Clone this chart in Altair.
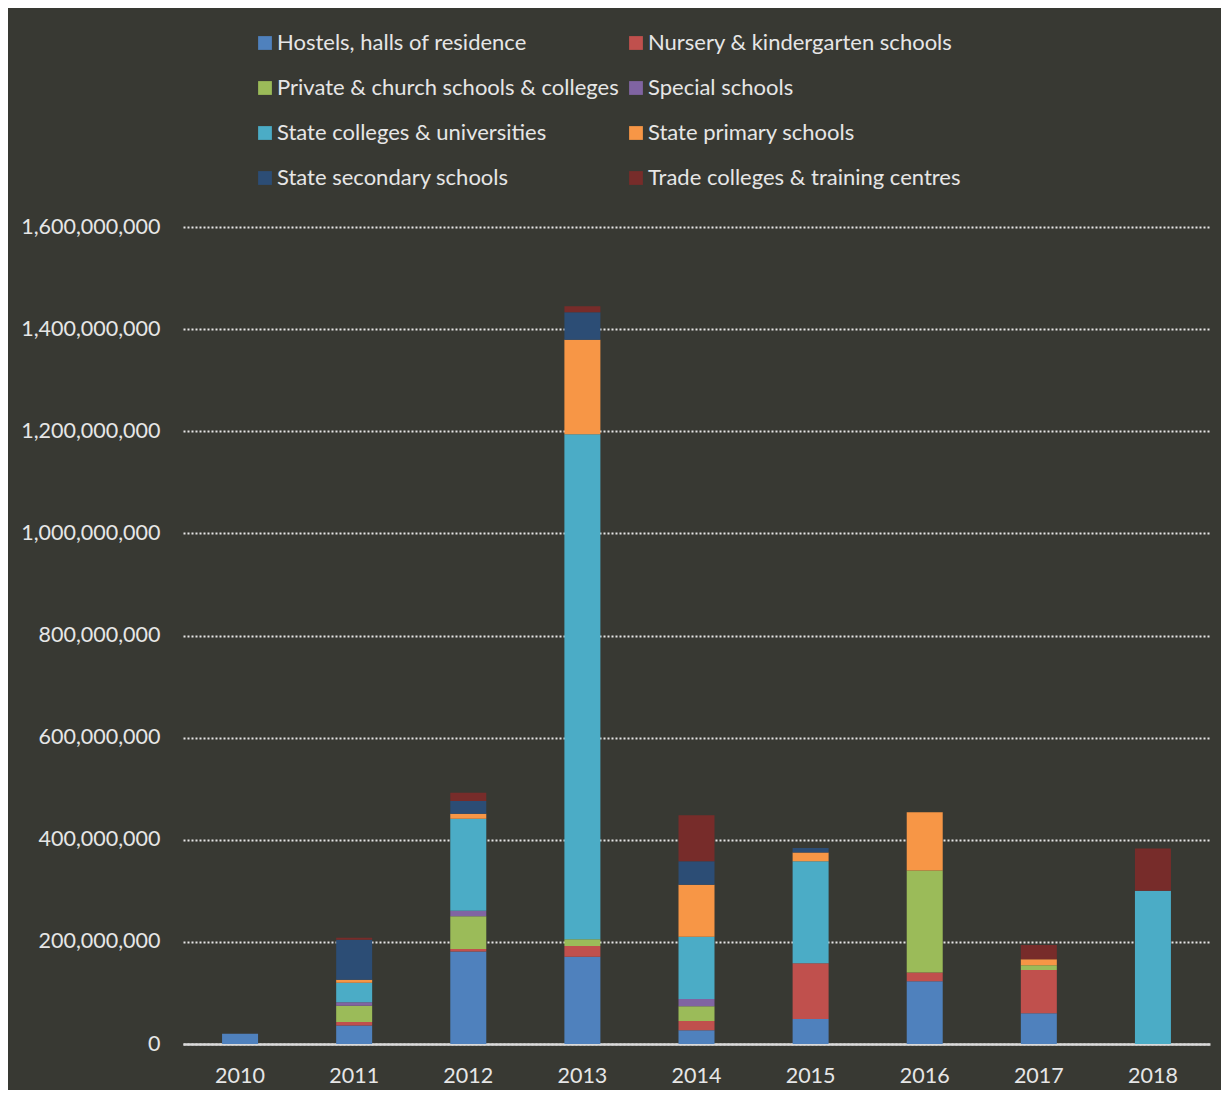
import altair as alt
import pandas as pd

years = ["2010", "2011", "2012", "2013", "2014", "2015", "2016", "2017", "2018"]
categories = [
    "Hostels, halls of residence",
    "Nursery & kindergarten schools",
    "Private & church schools & colleges",
    "Special schools",
    "State colleges & universities",
    "State primary schools",
    "State secondary schools",
    "Trade colleges & training centres",
]
colors = ["#4F81BD", "#C0504D", "#9BBB59", "#8064A2", "#4BACC6", "#F79646", "#2C4D75", "#772C2A"]

hostels   = [20e6, 36e6, 181e6, 171e6, 27e6, 49e6, 123e6, 60e6, 0]
nursery   = [0, 7e6, 5e6, 21e6, 18e6, 109e6, 17e6, 85e6, 0]
private   = [0, 32e6, 64e6, 13e6, 29e6, 0, 200e6, 9e6, 0]
special   = [0, 7e6, 11e6, 0, 14e6, 0, 0, 0, 0]
colleges  = [0, 38e6, 180e6, 989e6, 122e6, 200e6, 0, 0, 300e6]
primary   = [0, 6e6, 10e6, 185e6, 102e6, 17e6, 114e6, 12e6, 0]
secondary = [0, 78e6, 25e6, 54e6, 46e6, 9e6, 0, 0, 0]
trade     = [0, 4e6, 16e6, 12e6, 90e6, 0, 0, 28e6, 83e6]

series = [hostels, nursery, private, special, colleges, primary, secondary, trade]

rows = []
for ci, (cat, vals) in enumerate(zip(categories, series)):
    for y, v in zip(years, vals):
        if v > 0:
            rows.append({"year": y, "category": cat, "value": v, "idx": ci})
df = pd.DataFrame(rows)

FONT = "Lato"
TXT = "#E6E6E6"

chart = alt.Chart(df).mark_bar(size=36).encode(
    x=alt.X("year:N", sort=years, title=None,
            axis=alt.Axis(labelAngle=0, labelFontSize=21.5, labelColor=TXT, labelFont=FONT,
                          domainColor="#D9D9D9", domainWidth=2.5, ticks=False, labelPadding=21,
                          grid=False)),
    y=alt.Y("value:Q", stack="zero", title=None,
            scale=alt.Scale(domain=[0, 1.6e9], nice=False),
            axis=alt.Axis(values=[0, 2e8, 4e8, 6e8, 8e8, 1e9, 1.2e9, 1.4e9, 1.6e9],
                          format=",.0f", labelFontSize=21.5, labelColor=TXT, labelFont=FONT,
                          domain=False, ticks=False, labelPadding=23,
                          grid=True, gridColor="#E6E6E6", gridWidth=2, gridDash=[2, 2])),
    color=alt.Color("category:N", sort=categories,
                    scale=alt.Scale(domain=categories, range=colors),
                    legend=alt.Legend(title=None, orient="none", legendX=71, legendY=-195,
                                      direction="horizontal",
                                      columns=2, columnPadding=6, rowPadding=23,
                                      symbolType="square", symbolSize=190, symbolStrokeWidth=0,
                                      labelFontSize=22, labelColor=TXT, labelFont=FONT,
                                      labelOffset=1, labelLimit=0)),
    order=alt.Order("idx:Q", sort="ascending"),
).properties(
    width=1027, height=817,
    autosize=alt.AutoSizeParams(type="none"),
    padding={"left": 175, "top": 219, "right": 11, "bottom": 46},
    background="#383933",
).configure_view(stroke=None)

chart.save("out.html", embed_options={"renderer": "svg", "actions": False})
